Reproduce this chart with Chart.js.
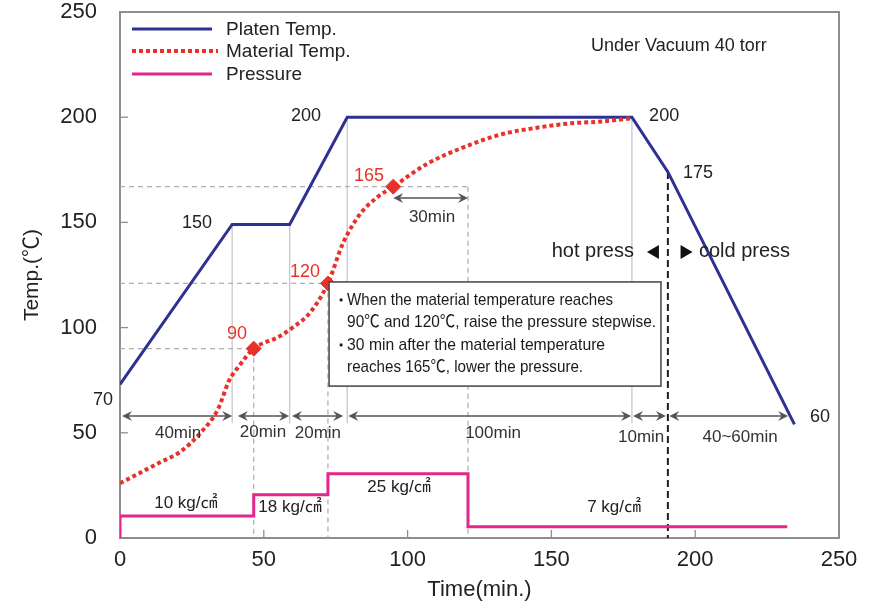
<!DOCTYPE html>
<html><head><meta charset="utf-8">
<script src="https://cdn.jsdelivr.net/npm/chart.js@4.4.0/dist/chart.umd.min.js"></script>
<style>html,body{margin:0;padding:0;background:#fff;}canvas{display:block;}</style>
</head><body>
<canvas id="c" width="872" height="604"></canvas>
<script>
// ---- data ----
const platenTime = [0, 39, 59, 79, 178, 190.5, 234.5];
const platenTemp = [73, 149, 149, 200, 200, 174, 54];
const materialTime = [0, 7, 14, 21, 28, 34, 38, 41, 46.5, 55, 60, 66, 72.3, 77.5, 83.5, 89.5, 95, 107, 121, 133, 145, 156, 168, 178];
const materialTemp = [26, 31, 36, 41, 50, 61, 75, 81, 90, 95.5, 100, 107, 121, 140, 154, 162, 167, 178, 186.5, 192, 195, 197, 198, 199.5];
const pressureTime = [0, 0, 46.5, 72.3, 121, 232];
const pressureLevel = [0, 10.5, 20.5, 30.5, 5.3, 5.3];
const pressureLabels = ['10 kg/㎠', '18 kg/㎠', '25 kg/㎠', '7 kg/㎠'];
const markerTime = [46.5, 72.3, 95];
const markerTemp = [90, 121, 167];
const markerLabels = ['90', '120', '165'];
const platenLabels = ['70', '150', '200', '200', '175', '60'];
const stageStart = [0.7, 41, 59.8, 79.4, 178.4, 191];
const stageEnd = [39, 58.8, 77.6, 177.7, 189.8, 232.3];
const stageLabels = ['40min', '20min', '20min', '100min', '10min', '40~60min'];
const seriesNames = ['Platen Temp.', 'Material Temp.', 'Pressure'];
const noteLines = [
  'When the material temperature reaches',
  '90℃ and 120℃, raise the pressure stepwise.',
  '30 min after the material temperature',
  'reaches 165℃, lower the pressure.'
];

const FONT = '"Liberation Sans", Arial, Helvetica, "Noto Sans CJK JP", sans-serif';
const BLUE = '#2e3192', RED = '#e8312a', PINK = '#e4258b', INK = '#222222';
const GRID = '#c4c4c4', DASH = '#b0b0b0', ARROW = '#555555', FRAME = '#8e8e8e';

const pts = (xs, ys) => xs.map((x, i) => ({x, y: ys[i]}));

function seg(ctx, x1, y1, x2, y2) { ctx.beginPath(); ctx.moveTo(x1, y1); ctx.lineTo(x2, y2); ctx.stroke(); }
function head(ctx, x, y, dir) {
  const L = 10, W = 5, N = 6.5;
  ctx.beginPath();
  ctx.moveTo(x, y);
  ctx.lineTo(x - dir * L, y - W);
  ctx.lineTo(x - dir * N, y);
  ctx.lineTo(x - dir * L, y + W);
  ctx.closePath(); ctx.fill();
}
function dimArrow(ctx, x1, x2, y) {
  ctx.strokeStyle = ARROW; ctx.fillStyle = ARROW; ctx.lineWidth = 1.6; ctx.setLineDash([]);
  seg(ctx, x1 + 4, y, x2 - 4, y);
  head(ctx, x1, y, -1); head(ctx, x2, y, 1);
}
function txt(ctx, s, x, y, size, color, align, maxW) {
  ctx.font = size + 'px ' + FONT; ctx.fillStyle = color || INK;
  ctx.textAlign = align || 'center'; ctx.textBaseline = 'middle';
  if (maxW) ctx.fillText(s, x, y, maxW); else ctx.fillText(s, x, y);
}

const decor = {
  id: 'decor',
  beforeDatasetsDraw(chart) {
    const {ctx, chartArea: a, scales: {x: sx, y: sy}} = chart;
    const X = v => sx.getPixelForValue(v), Y = v => sy.getPixelForValue(v);
    ctx.save();
    // frame
    ctx.strokeStyle = FRAME; ctx.lineWidth = 2;
    ctx.strokeRect(a.left, a.top, a.right - a.left, a.bottom - a.top);
    // inward tick marks
    ctx.lineWidth = 1.3;
    sy.ticks.forEach(t => { if (t.value > 0 && t.value < 250) seg(ctx, a.left, Y(t.value), a.left + 8, Y(t.value)); });
    sx.ticks.forEach(t => { if (t.value > 0 && t.value < 250) seg(ctx, X(t.value), a.bottom, X(t.value), a.bottom - 8); });
    // solid gray guide lines at platen corners
    ctx.strokeStyle = GRID; ctx.lineWidth = 1.2;
    for (let i = 1; i <= 4; i++) seg(ctx, X(platenTime[i]), Y(platenTemp[i]), X(platenTime[i]), Y(54.5));
    // dashed guides for material temperature points
    ctx.strokeStyle = DASH; ctx.lineWidth = 1.3; ctx.setLineDash([5, 4]);
    const ends = [markerTime[0], markerTime[1], pressureTime[4]];
    markerTemp.forEach((v, i) => {
      seg(ctx, X(0), Y(v), X(ends[i]), Y(v));
      seg(ctx, X(ends[i]), Y(v), X(ends[i]), Y(0));
    });
    // hot/cold press divider
    ctx.strokeStyle = '#1e1e1e'; ctx.lineWidth = 2; ctx.setLineDash([7, 4]);
    seg(ctx, X(platenTime[5]), Y(platenTemp[5]), X(platenTime[5]), Y(0));
    ctx.setLineDash([]);
    // stage arrows
    stageStart.forEach((s, i) => {
      dimArrow(ctx, X(s), X(stageEnd[i]), Y(58));
    });
    // 30 min arrow
    dimArrow(ctx, X(markerTime[2]), X(pressureTime[4]), Y(161.6));
    ctx.restore();
  },
  afterDatasetsDraw(chart) {
    const {ctx, scales: {x: sx, y: sy}} = chart;
    const X = v => sx.getPixelForValue(v), Y = v => sy.getPixelForValue(v);
    ctx.save();
    // stage labels
    const stageLabelPos = [[20.2, 49.9], [49.7, 50.4], [68.8, 49.9], [129.7, 49.9], [181.2, 48], [215.6, 48]];
    stageLabels.forEach((s, i) => txt(ctx, s, X(stageLabelPos[i][0]), Y(stageLabelPos[i][1]), 17, '#333'));
    txt(ctx, '30min', X(108.5), Y(152.6), 17, '#333');
    // platen labels
    const platenLabelPos = [[-5.9, 65.6], [26.8, 149.7], [64.7, 200.6], [189.2, 200.6], [201, 173.5], [243.4, 57.5]];
    platenLabels.forEach((s, i) => txt(ctx, s, X(platenLabelPos[i][0]), Y(platenLabelPos[i][1]), 18, INK));
    // material labels
    const markerLabelPos = [[40.7, 97], [64.3, 126.4], [86.6, 172]];
    markerLabels.forEach((s, i) => txt(ctx, s, X(markerLabelPos[i][0]), Y(markerLabelPos[i][1]), 18, RED));
    // pressure labels
    const pressureLabelPos = [[22.9, 16.6], [59.1, 14.7], [97, 24.2], [171.8, 14.7]];
    pressureLabels.forEach((s, i) => txt(ctx, s, X(pressureLabelPos[i][0]), Y(pressureLabelPos[i][1]), 17, INK));
    // vacuum note
    txt(ctx, 'Under Vacuum 40 torr', X(163.8), Y(233.8), 18, INK, 'left');
    // hot / cold press
    txt(ctx, 'hot press', X(178.7), Y(136.4), 20, INK, 'right');
    txt(ctx, 'cold press', X(201.3), Y(136.4), 20, INK, 'left');
    ctx.fillStyle = '#111';
    const ty = Y(135.9), lx = X(185.3), rx = X(197);
    ctx.beginPath(); ctx.moveTo(lx - 6, ty); ctx.lineTo(lx + 6, ty - 7); ctx.lineTo(lx + 6, ty + 7); ctx.closePath(); ctx.fill();
    ctx.beginPath(); ctx.moveTo(rx + 6, ty); ctx.lineTo(rx - 6, ty - 7); ctx.lineTo(rx - 6, ty + 7); ctx.closePath(); ctx.fill();
    // note box
    const bx1 = X(72.7), by1 = Y(121.7), bx2 = X(188.1), by2 = Y(72.2);
    ctx.fillStyle = '#fff'; ctx.fillRect(bx1, by1, bx2 - bx1, by2 - by1);
    ctx.strokeStyle = '#444'; ctx.lineWidth = 1.5; ctx.strokeRect(bx1, by1, bx2 - bx1, by2 - by1);
    const lineY = [18, 40, 63, 85], lineW = [266, 309, 258, 236];
    noteLines.forEach((s, i) => txt(ctx, s, bx1 + 18, by1 + lineY[i], 17, '#1a1a1a', 'left', lineW[i]));
    ctx.fillStyle = '#1a1a1a';
    [0, 2].forEach(i => { ctx.beginPath(); ctx.arc(bx1 + 12, by1 + lineY[i], 1.6, 0, Math.PI * 2); ctx.fill(); });
    // legend
    const ly = [29, 51, 74];
    ctx.lineCap = 'butt';
    ctx.strokeStyle = BLUE; ctx.lineWidth = 3; seg(ctx, 132, ly[0], 212, ly[0]);
    ctx.strokeStyle = RED; ctx.lineWidth = 4; ctx.setLineDash([4, 3]); seg(ctx, 132, ly[1], 218, ly[1]);
    ctx.setLineDash([]);
    ctx.strokeStyle = PINK; ctx.lineWidth = 3; seg(ctx, 132, ly[2], 212, ly[2]);
    seriesNames.forEach((s, i) => txt(ctx, s, 226, ly[i] + 1, 19, INK, 'left'));
    ctx.restore();
  }
};

const tickFont = {family: FONT, size: 22, lineHeight: 1};

new Chart(document.getElementById('c'), {
  type: 'scatter',
  data: {
    datasets: [
      {label: 'markers', data: pts(markerTime, markerTemp), showLine: false, pointStyle: 'rectRot',
       pointRadius: 7.5, pointBackgroundColor: RED, pointBorderColor: RED, pointBorderWidth: 1},
      {label: seriesNames[1], data: pts(materialTime, materialTemp), showLine: true, borderColor: RED,
       borderWidth: 4, borderDash: [4, 3], borderCapStyle: 'butt', pointRadius: 0, cubicInterpolationMode: 'monotone'},
      {label: seriesNames[0], data: pts(platenTime, platenTemp), showLine: true, borderColor: BLUE,
       borderWidth: 3, pointRadius: 0, tension: 0},
      {label: seriesNames[2], data: pts(pressureTime, pressureLevel), showLine: true, borderColor: PINK,
       borderWidth: 3, pointRadius: 0, stepped: 'before'}
    ]
  },
  options: {
    responsive: false, animation: false, devicePixelRatio: 1,
    layout: {padding: {left: 0, top: 12, right: 33, bottom: 0}},
    plugins: {legend: {display: false}, tooltip: {enabled: false}},
    scales: {
      x: {
        type: 'linear', min: 0, max: 250,
        ticks: {stepSize: 50, font: tickFont, color: INK, padding: 11, maxRotation: 0},
        grid: {display: false, drawTicks: false}, border: {display: false},
        title: {display: true, text: 'Time(min.)', color: INK, font: {family: FONT, size: 22}, padding: {top: 0, bottom: 1}},
        afterFit: s => { s.height = 66; s.paddingLeft = 0; s.paddingRight = 0; }
      },
      y: {
        min: 0, max: 250,
        ticks: {stepSize: 50, font: tickFont, color: INK, padding: 23},
        grid: {display: false, drawTicks: false}, border: {display: false},
        title: {display: true, text: 'Temp.(℃)', color: INK, font: {family: FONT, size: 21}, padding: {top: 20, bottom: 0}},
        afterFit: s => { s.width = 120; s.paddingTop = 0; s.paddingBottom = 0; }
      }
    }
  },
  plugins: [decor]
});
</script>
</body></html>
